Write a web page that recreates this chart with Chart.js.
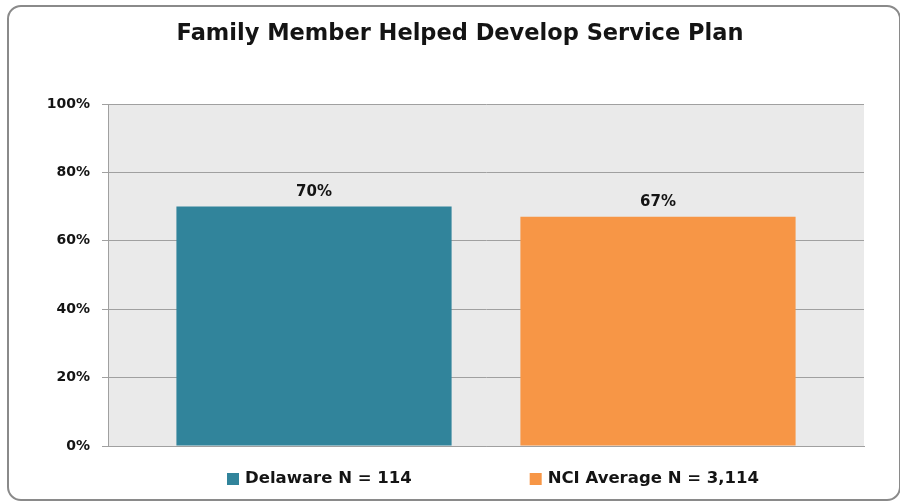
<!DOCTYPE html>
<html>
<head>
<meta charset="utf-8">
<script src="https://cdn.jsdelivr.net/npm/chart.js@4.4.1/dist/chart.umd.min.js"></script>
<style>
  html, body { margin: 0; padding: 0; background: #fff; }
  #wrap { position: relative; width: 900px; height: 502px; overflow: hidden; }
  #frame {
    position: absolute; left: 7px; top: 5px; width: 894px; height: 496px;
    box-sizing: border-box; border: 2px solid #8a8a8a; border-radius: 14px;
  }
  #chart { position: absolute; left: 0; top: 0; }
</style>
</head>
<body>
<div id="wrap">
  <div id="frame"></div>
  <canvas id="chart" width="900" height="502"></canvas>
</div>
<script>
const chartTitle = "Family Member Helped Develop Service Plan";
const seriesNames = ["Delaware N = 114", "NCI Average N = 3,114"];
const seriesValues = [70, 67];
const seriesColors = ["#31849B", "#F79646"];
const yMax = 100;
const yStep = 20;

const textColor = "#141414";
const gridColor = "#a0a0a0";

// grey plot background
const plotBg = {
  id: "plotBg",
  beforeDraw(chart) {
    const { ctx, chartArea: a } = chart;
    ctx.save();
    ctx.fillStyle = "#EAEAEA";
    ctx.fillRect(a.left, a.top, a.right - a.left, a.bottom - a.top);
    ctx.restore();
  }
};

// percent labels above bars
const barLabels = {
  id: "barLabels",
  afterDatasetsDraw(chart) {
    const ctx = chart.ctx;
    ctx.save();
    ctx.font = "bold 15px 'DejaVu Sans'";
    ctx.fillStyle = textColor;
    ctx.textAlign = "center";
    ctx.textBaseline = "alphabetic";
    chart.data.datasets.forEach((ds, i) => {
      chart.getDatasetMeta(i).data.forEach((bar, j) => {
        ctx.fillText(ds.data[j] + "%", bar.x, bar.y - 11);
      });
    });
    ctx.restore();
  }
};

// legend with wide spacing between the two entries
const wideLegend = {
  id: "wideLegend",
  afterDraw(chart) {
    const ctx = chart.ctx;
    const box = 12, gap = 6, spacing = 118, cx = 493, cy = 478.5;
    ctx.save();
    ctx.font = "bold 16.5px 'DejaVu Sans'";
    const items = chart.data.datasets.map(ds => ({
      text: ds.label, color: ds.backgroundColor, w: ctx.measureText(ds.label).width
    }));
    let total = items.reduce((s, it) => s + box + gap + it.w, 0) + spacing * (items.length - 1);
    let x = Math.round(cx - total / 2);
    ctx.textBaseline = "middle";
    ctx.textAlign = "left";
    items.forEach(it => {
      ctx.fillStyle = it.color;
      ctx.fillRect(x, Math.round(cy - box / 2), box, box);
      ctx.fillStyle = textColor;
      ctx.fillText(it.text, x + box + gap, cy);
      x += box + gap + it.w + spacing;
    });
    ctx.restore();
  }
};

new Chart(document.getElementById("chart").getContext("2d"), {
  type: "bar",
  data: {
    labels: [""],
    datasets: seriesNames.map((name, i) => ({
      label: name,
      data: [seriesValues[i]],
      backgroundColor: seriesColors[i],
      categoryPercentage: 0.91,
      barPercentage: 0.8
    }))
  },
  options: {
    responsive: false,
    animation: false,
    layout: { padding: { left: 20, right: 0, top: 0, bottom: 56 } },
    plugins: {
      legend: { display: false },
      tooltip: { enabled: false },
      title: {
        display: true,
        text: chartTitle,
        color: textColor,
        font: { family: "DejaVu Sans", size: 22.5, weight: "bold" },
        padding: { top: 21, bottom: 56 }
      }
    },
    scales: {
      x: {
        grid: { display: false },
        border: { display: true, color: gridColor },
        ticks: { display: false },
        afterFit(scale) { scale.height = 0; }
      },
      y: {
        min: 0,
        max: yMax,
        ticks: {
          stepSize: yStep,
          padding: 12,
          color: textColor,
          font: { family: "DejaVu Sans", size: 14, weight: "bold" },
          callback: v => v + "%"
        },
        grid: { color: gridColor, tickLength: 6, drawTicks: true },
        border: { display: true, color: gridColor },
        afterFit(scale) { scale.width = 88; }
      },
      // empty right-hand spacer so the plot ends where the reference does
      yRight: {
        position: "right",
        grid: { display: false },
        border: { display: false },
        ticks: { display: false },
        afterFit(scale) { scale.width = 36; }
      }
    }
  },
  plugins: [plotBg, barLabels, wideLegend]
});
</script>
</body>
</html>
